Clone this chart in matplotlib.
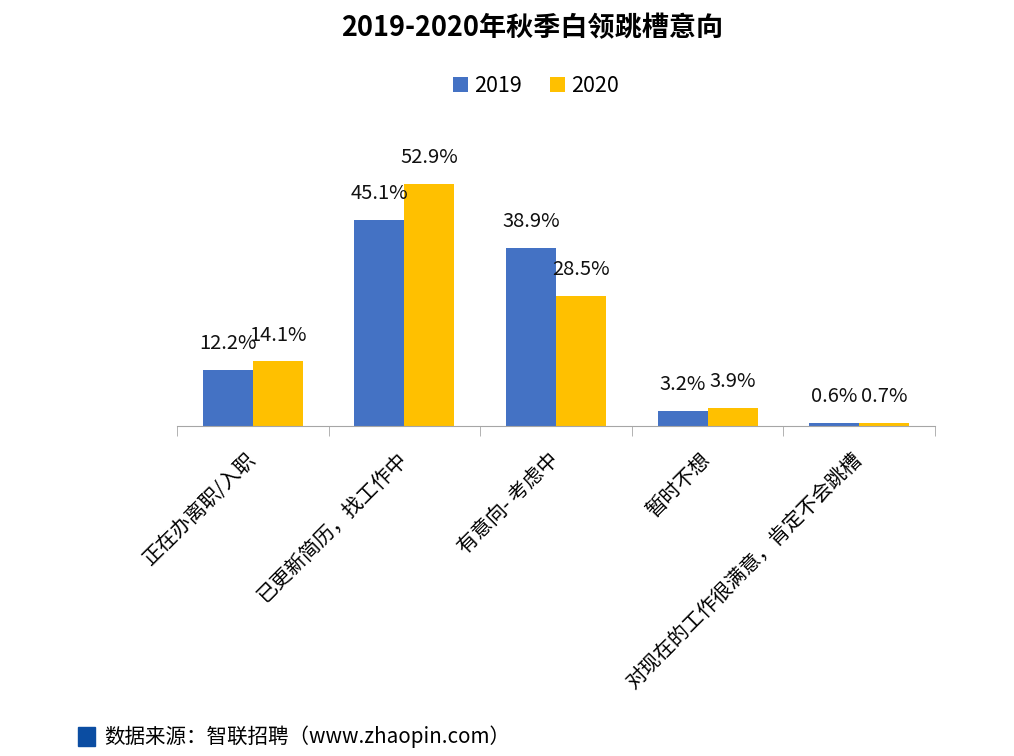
import matplotlib
matplotlib.use('Agg')
from matplotlib import pyplot as plt
import matplotlib.patches as mpatches
import numpy as np

plt.rcParams['font.family'] = ['Noto Sans CJK SC', 'DejaVu Sans']

categories = ['正在办离职/入职', '已更新简历，找工作中', '有意向- 考虑中', '暂时不想', '对现在的工作很满意，肯定不会跳槽']
v2019 = [12.2, 45.1, 38.9, 3.2, 0.6]
v2020 = [14.1, 52.9, 28.5, 3.9, 0.7]
series = ['2019', '2020']
colors = ['#4472C4', '#FFC000']

fig = plt.figure(figsize=(10.14, 7.56), dpi=100)
ax = fig.add_axes([0.1746, 0.4365, 0.7475, 0.3631])

x = np.arange(len(categories))
w = 0.33
b1 = ax.bar(x - w / 2, v2019, w, color=colors[0], label=series[0])
b2 = ax.bar(x + w / 2, v2020, w, color=colors[1], label=series[1])

for bars, vals in ((b1, v2019), (b2, v2020)):
    for b, v in zip(bars, vals):
        ax.annotate(f'{v}%', (b.get_x() + b.get_width() / 2, v),
                    xytext=(0, 19), textcoords='offset points',
                    ha='center', va='center', fontsize=14.5, color='#111111')

ax.set_xlim(-0.5, len(categories) - 0.5)
ax.set_ylim(0, 60)
ax.set_yticks([])
for s in ['left', 'right', 'top']:
    ax.spines[s].set_visible(False)
ax.spines['bottom'].set_color('#A6A6A6')

ax.set_xticks(x)
ax.set_xticklabels(categories, rotation=45, ha='right', va='center',
                   rotation_mode='anchor', fontsize=14.6)
ax.tick_params(axis='x', which='major', length=0, pad=22)
ax.set_xticks(np.arange(len(categories) + 1) - 0.5, minor=True)
ax.tick_params(axis='x', which='minor', length=7, color='#A6A6A6')

fig.text(532 / 1014, 0.963, '2019-2020年秋季白领跳槽意向', ha='center', va='center',
         fontsize=19.5, fontweight='bold')

ax.legend(loc='center', ncol=2, frameon=False, fontsize=15.5, handlelength=0.7,
          handleheight=0.7, handletextpad=0.3, columnspacing=1.3)
leg = ax.get_legend()
leg.set_bbox_to_anchor((536 / 1014, 1 - 86 / 756), transform=fig.transFigure)

fig.patches.append(mpatches.Rectangle((78 / 1014, 1 - 746 / 756), 17 / 1014, 19 / 756,
                                      color='#0B4DA2', transform=fig.transFigure, figure=fig))
fig.text(104 / 1014, 1 - 737 / 756, '数据来源：智联招聘（www.zhaopin.com）',
         ha='left', va='center', fontsize=14.8)

plt.savefig('out.png', dpi=100)
